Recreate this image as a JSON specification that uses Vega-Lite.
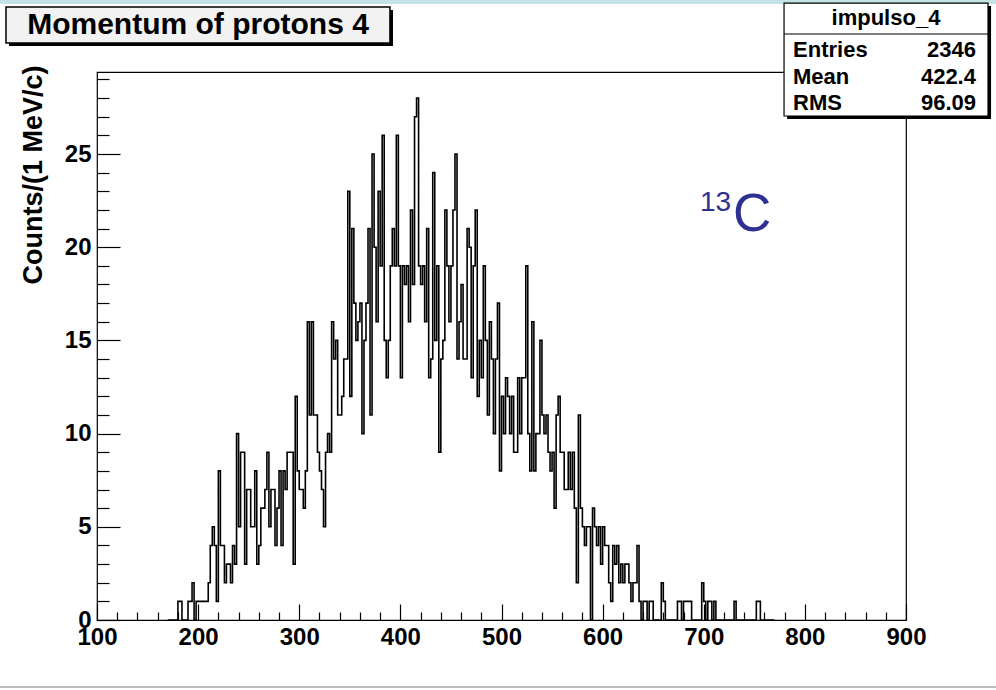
{
  "$schema": "https://vega.github.io/schema/vega-lite/v6.json",
  "width": 809,
  "height": 548,
  "autosize": {"type": "none"},
  "padding": {"left": 97, "top": 72, "right": 90, "bottom": 70},
  "background": "white",
  "config": {
    "view": {"stroke": "black", "strokeWidth": 1.2},
    "font": "Liberation Sans"
  },
  "resolve": {"axis": {"x": "independent", "y": "independent"}},
  "datasets": {
    "hist": [
      {"p":170,"n":0},{"p":172,"n":0},{"p":174,"n":0},{"p":176,"n":0},{"p":178,"n":0},
      {"p":180,"n":1},{"p":182,"n":1},{"p":184,"n":0},{"p":186,"n":0},{"p":188,"n":0},{"p":190,"n":1},{"p":192,"n":1},{"p":194,"n":2},{"p":196,"n":0},{"p":198,"n":1},
      {"p":200,"n":1},{"p":202,"n":1},{"p":204,"n":1},{"p":206,"n":1},{"p":208,"n":1},{"p":210,"n":2},{"p":212,"n":4},{"p":214,"n":5},{"p":216,"n":4},{"p":218,"n":1},
      {"p":220,"n":8},{"p":222,"n":4},{"p":224,"n":4},{"p":226,"n":2},{"p":228,"n":3},{"p":230,"n":3},{"p":232,"n":2},{"p":234,"n":4},{"p":236,"n":3},{"p":238,"n":10},
      {"p":240,"n":5},{"p":242,"n":9},{"p":244,"n":9},{"p":246,"n":3},{"p":248,"n":7},{"p":250,"n":7},{"p":252,"n":5},{"p":254,"n":5},{"p":256,"n":8},{"p":258,"n":3},
      {"p":260,"n":4},{"p":262,"n":6},{"p":264,"n":6},{"p":266,"n":7},{"p":268,"n":9},{"p":270,"n":5},{"p":272,"n":7},{"p":274,"n":7},{"p":276,"n":4},{"p":278,"n":6},
      {"p":280,"n":8},{"p":282,"n":4},{"p":284,"n":8},{"p":286,"n":7},{"p":288,"n":9},{"p":290,"n":9},{"p":292,"n":9},{"p":294,"n":3},{"p":296,"n":12},{"p":298,"n":8},
      {"p":300,"n":7},{"p":302,"n":7},{"p":304,"n":6},{"p":306,"n":8},{"p":308,"n":16},{"p":310,"n":11},{"p":312,"n":16},{"p":314,"n":11},{"p":316,"n":11},{"p":318,"n":9},
      {"p":320,"n":8},{"p":322,"n":7},{"p":324,"n":5},{"p":326,"n":9},{"p":328,"n":10},{"p":330,"n":9},{"p":332,"n":16},{"p":334,"n":14},{"p":336,"n":15},{"p":338,"n":11},
      {"p":340,"n":11},{"p":342,"n":12},{"p":344,"n":14},{"p":346,"n":14},{"p":348,"n":23},{"p":350,"n":12},{"p":352,"n":21},{"p":354,"n":17},{"p":356,"n":15},{"p":358,"n":16},
      {"p":360,"n":17},{"p":362,"n":10},{"p":364,"n":15},{"p":366,"n":17},{"p":368,"n":21},{"p":370,"n":11},{"p":372,"n":25},{"p":374,"n":20},{"p":376,"n":16},{"p":378,"n":23},
      {"p":380,"n":19},{"p":382,"n":26},{"p":384,"n":15},{"p":386,"n":13},{"p":388,"n":15},{"p":390,"n":19},{"p":392,"n":21},{"p":394,"n":19},{"p":396,"n":26},{"p":398,"n":19},
      {"p":400,"n":13},{"p":402,"n":19},{"p":404,"n":18},{"p":406,"n":19},{"p":408,"n":16},{"p":410,"n":22},{"p":412,"n":18},{"p":414,"n":27},{"p":416,"n":28},{"p":418,"n":19},
      {"p":420,"n":18},{"p":422,"n":19},{"p":424,"n":16},{"p":426,"n":21},{"p":428,"n":13},{"p":430,"n":14},{"p":432,"n":24},{"p":434,"n":15},{"p":436,"n":19},{"p":438,"n":9},
      {"p":440,"n":14},{"p":442,"n":15},{"p":444,"n":22},{"p":446,"n":19},{"p":448,"n":16},{"p":450,"n":19},{"p":452,"n":22},{"p":454,"n":25},{"p":456,"n":14},{"p":458,"n":16},
      {"p":460,"n":18},{"p":462,"n":14},{"p":464,"n":14},{"p":466,"n":21},{"p":468,"n":20},{"p":470,"n":13},{"p":472,"n":19},{"p":474,"n":22},{"p":476,"n":12},{"p":478,"n":15},
      {"p":480,"n":13},{"p":482,"n":19},{"p":484,"n":15},{"p":486,"n":11},{"p":488,"n":16},{"p":490,"n":14},{"p":492,"n":10},{"p":494,"n":14},{"p":496,"n":17},{"p":498,"n":8},
      {"p":500,"n":12},{"p":502,"n":10},{"p":504,"n":13},{"p":506,"n":12},{"p":508,"n":10},{"p":510,"n":12},{"p":512,"n":9},{"p":514,"n":9},{"p":516,"n":13},{"p":518,"n":10},
      {"p":520,"n":13},{"p":522,"n":13},{"p":524,"n":19},{"p":526,"n":10},{"p":528,"n":8},{"p":530,"n":16},{"p":532,"n":8},{"p":534,"n":10},{"p":536,"n":10},{"p":538,"n":15},
      {"p":540,"n":11},{"p":542,"n":10},{"p":544,"n":11},{"p":546,"n":9},{"p":548,"n":8},{"p":550,"n":9},{"p":552,"n":6},{"p":554,"n":11},{"p":556,"n":12},{"p":558,"n":9},
      {"p":560,"n":9},{"p":562,"n":7},{"p":564,"n":7},{"p":566,"n":9},{"p":568,"n":7},{"p":570,"n":9},{"p":572,"n":6},{"p":574,"n":2},{"p":576,"n":11},{"p":578,"n":6},
      {"p":580,"n":5},{"p":582,"n":4},{"p":584,"n":5},{"p":586,"n":5},{"p":588,"n":0},{"p":590,"n":6},{"p":592,"n":5},{"p":594,"n":4},{"p":596,"n":5},{"p":598,"n":3},
      {"p":600,"n":5},{"p":602,"n":4},{"p":604,"n":4},{"p":606,"n":2},{"p":608,"n":1},{"p":610,"n":4},{"p":612,"n":3},{"p":614,"n":4},{"p":616,"n":2},{"p":618,"n":3},
      {"p":620,"n":2},{"p":622,"n":3},{"p":624,"n":3},{"p":626,"n":2},{"p":628,"n":1},{"p":630,"n":2},{"p":632,"n":2},{"p":634,"n":4},{"p":636,"n":1},{"p":638,"n":0},
      {"p":640,"n":1},{"p":642,"n":1},{"p":644,"n":0},{"p":646,"n":1},{"p":648,"n":1},{"p":650,"n":0},{"p":652,"n":0},{"p":654,"n":0},{"p":656,"n":0},{"p":658,"n":2},
      {"p":660,"n":1},{"p":662,"n":0},{"p":664,"n":0},{"p":666,"n":0},{"p":668,"n":0},{"p":670,"n":0},{"p":672,"n":0},{"p":674,"n":1},{"p":676,"n":1},{"p":678,"n":0},
      {"p":680,"n":1},{"p":682,"n":1},{"p":684,"n":1},{"p":686,"n":1},{"p":688,"n":0},{"p":690,"n":0},{"p":692,"n":0},{"p":694,"n":0},{"p":696,"n":0},{"p":698,"n":2},
      {"p":700,"n":1},{"p":702,"n":0},{"p":704,"n":1},{"p":706,"n":1},{"p":708,"n":0},{"p":710,"n":1},{"p":712,"n":0},{"p":714,"n":0},{"p":716,"n":0},{"p":718,"n":0},
      {"p":720,"n":0},{"p":722,"n":0},{"p":724,"n":0},{"p":726,"n":0},{"p":728,"n":0},{"p":730,"n":1},{"p":732,"n":0},{"p":734,"n":0},{"p":736,"n":0},{"p":738,"n":0},
      {"p":740,"n":0},{"p":742,"n":0},{"p":744,"n":0},{"p":746,"n":0},{"p":748,"n":0},{"p":750,"n":0},{"p":752,"n":1},{"p":754,"n":1},{"p":756,"n":0},{"p":758,"n":0},
      {"p":760,"n":0},{"p":762,"n":0},{"p":764,"n":0},{"p":766,"n":0},{"p":768,"n":0},{"p":770,"n":0}
    ]
  },
  "layer": [
    {
      "data": {"name": "hist"},
      "mark": {"type": "line", "interpolate": "step-after", "color": "black", "strokeWidth": 1.6},
      "encoding": {
        "x": {
          "field": "p", "type": "quantitative",
          "scale": {"domain": [100, 900], "nice": false, "zero": false},
          "axis": {
            "title": null, "domain": false, "grid": false,
            "values": [100,120,140,160,180,200,220,240,260,280,300,320,340,360,380,400,420,440,460,480,500,520,540,560,580,600,620,640,660,680,700,720,740,760,780,800,820,840,860,880,900],
            "tickSize": {"condition": {"test": "datum.value % 100 === 0", "value": -16}, "value": -8},
            "tickColor": "black", "tickWidth": 1.2,
            "labelExpr": "datum.value % 100 === 0 ? datum.label : ''",
            "labelFont": "Liberation Sans", "labelFontSize": 24, "labelFontWeight": "bold", "labelColor": "black",
            "labelPadding": 21, "labelOverlap": false, "labelFlush": false
          }
        },
        "y": {
          "field": "n", "type": "quantitative",
          "scale": {"domain": [0, 29.4], "nice": false},
          "axis": {
            "title": "Counts/(1 MeV/c)", "domain": false, "grid": false,
            "values": [0,1,2,3,4,5,6,7,8,9,10,11,12,13,14,15,16,17,18,19,20,21,22,23,24,25,26,27,28,29],
            "tickSize": {"condition": {"test": "datum.value % 5 === 0", "value": -23}, "value": -12},
            "tickColor": "black", "tickWidth": 1.2,
            "labelExpr": "datum.value % 5 === 0 ? datum.label : ''",
            "labelFont": "Liberation Sans", "labelFontSize": 24, "labelFontWeight": "bold", "labelColor": "black",
            "labelPadding": 29, "labelOverlap": false, "labelFlush": false,
            "titleFont": "Liberation Sans", "titleFontSize": 27, "titleFontWeight": "bold", "titleColor": "black",
            "titleAngle": 270, "titleAlign": "right", "titleBaseline": "middle", "titleX": -64, "titleY": -7
          }
        }
      }
    },
    {
      "data": {"values": [{}]},
      "mark": {"type": "rect", "color": "#c4e3e6", "clip": false},
      "encoding": {
        "x": {"datum": 0, "type": "quantitative", "axis": null},
        "x2": {"datum": 1000},
        "y": {"datum": 33.3, "type": "quantitative", "axis": null},
        "y2": {"datum": 33.05}
      }
    },
    {
      "data": {"values": [{}]},
      "mark": {"type": "rule", "color": "#bdbdbd", "strokeWidth": 2},
      "encoding": {
        "x": {"datum": 0, "type": "quantitative", "axis": null},
        "x2": {"datum": 1000},
        "y": {"datum": -3.6, "type": "quantitative", "axis": null}
      }
    },
    {
      "data": {"values": [{}]},
      "mark": {"type": "rect", "color": "black"},
      "encoding": {
        "x": {"datum": 13.0, "type": "quantitative", "axis": null},
        "x2": {"datum": 392.7},
        "y": {"datum": 32.73, "type": "quantitative", "axis": null},
        "y2": {"datum": 30.8}
      }
    },
    {
      "data": {"values": [{}]},
      "mark": {"type": "rect", "fill": "#f2f2f2", "stroke": "black", "strokeWidth": 1.5},
      "encoding": {
        "x": {"datum": 10.0, "type": "quantitative", "axis": null},
        "x2": {"datum": 389.7},
        "y": {"datum": 32.89, "type": "quantitative", "axis": null},
        "y2": {"datum": 30.96}
      }
    },
    {
      "data": {"values": [{}]},
      "mark": {"type": "text", "text": "Momentum of protons 4", "font": "Liberation Sans", "fontSize": 30, "fontWeight": "bold", "color": "black", "align": "center", "baseline": "middle"},
      "encoding": {
        "x": {"datum": 199.9, "type": "quantitative", "axis": null},
        "y": {"datum": 31.92, "type": "quantitative", "axis": null}
      }
    },
    {
      "data": {"values": [{}]},
      "mark": {"type": "rect", "color": "black"},
      "encoding": {
        "x": {"datum": 782.4, "type": "quantitative", "axis": null},
        "x2": {"datum": 984.1},
        "y": {"datum": 32.94, "type": "quantitative", "axis": null},
        "y2": {"datum": 26.88}
      }
    },
    {
      "data": {"values": [{}]},
      "mark": {"type": "rect", "fill": "white", "stroke": "black", "strokeWidth": 1.2},
      "encoding": {
        "x": {"datum": 779.4, "type": "quantitative", "axis": null},
        "x2": {"datum": 981.1},
        "y": {"datum": 33.1, "type": "quantitative", "axis": null},
        "y2": {"datum": 27.04}
      }
    },
    {
      "data": {"values": [{}]},
      "mark": {"type": "rule", "color": "black", "strokeWidth": 1.2},
      "encoding": {
        "x": {"datum": 779.4, "type": "quantitative", "axis": null},
        "x2": {"datum": 981.1},
        "y": {"datum": 31.44, "type": "quantitative", "axis": null}
      }
    },
    {
      "data": {"values": [{}]},
      "mark": {"type": "text", "text": "impulso_4", "font": "Liberation Sans", "fontSize": 22, "fontWeight": "bold", "color": "black", "align": "center", "baseline": "middle"},
      "encoding": {
        "x": {"datum": 880.2, "type": "quantitative", "axis": null},
        "y": {"datum": 32.3, "type": "quantitative", "axis": null}
      }
    },
    {
      "data": {"values": [{}]},
      "mark": {"type": "text", "text": "Entries", "font": "Liberation Sans", "fontSize": 22, "fontWeight": "bold", "color": "black", "align": "left", "baseline": "middle"},
      "encoding": {
        "x": {"datum": 788.3, "type": "quantitative", "axis": null},
        "y": {"datum": 30.58, "type": "quantitative", "axis": null}
      }
    },
    {
      "data": {"values": [{}]},
      "mark": {"type": "text", "text": "Mean", "font": "Liberation Sans", "fontSize": 22, "fontWeight": "bold", "color": "black", "align": "left", "baseline": "middle"},
      "encoding": {
        "x": {"datum": 788.3, "type": "quantitative", "axis": null},
        "y": {"datum": 29.13, "type": "quantitative", "axis": null}
      }
    },
    {
      "data": {"values": [{}]},
      "mark": {"type": "text", "text": "RMS", "font": "Liberation Sans", "fontSize": 22, "fontWeight": "bold", "color": "black", "align": "left", "baseline": "middle"},
      "encoding": {
        "x": {"datum": 788.3, "type": "quantitative", "axis": null},
        "y": {"datum": 27.74, "type": "quantitative", "axis": null}
      }
    },
    {
      "data": {"values": [{}]},
      "mark": {"type": "text", "text": "2346", "font": "Liberation Sans", "fontSize": 22, "fontWeight": "bold", "color": "black", "align": "right", "baseline": "middle"},
      "encoding": {
        "x": {"datum": 969.2, "type": "quantitative", "axis": null},
        "y": {"datum": 30.58, "type": "quantitative", "axis": null}
      }
    },
    {
      "data": {"values": [{}]},
      "mark": {"type": "text", "text": "422.4", "font": "Liberation Sans", "fontSize": 22, "fontWeight": "bold", "color": "black", "align": "right", "baseline": "middle"},
      "encoding": {
        "x": {"datum": 969.2, "type": "quantitative", "axis": null},
        "y": {"datum": 29.13, "type": "quantitative", "axis": null}
      }
    },
    {
      "data": {"values": [{}]},
      "mark": {"type": "text", "text": "96.09", "font": "Liberation Sans", "fontSize": 22, "fontWeight": "bold", "color": "black", "align": "right", "baseline": "middle"},
      "encoding": {
        "x": {"datum": 969.2, "type": "quantitative", "axis": null},
        "y": {"datum": 27.74, "type": "quantitative", "axis": null}
      }
    },
    {
      "data": {"values": [{}]},
      "mark": {"type": "text", "text": "13", "font": "Liberation Sans", "fontSize": 28, "color": "#2f3192", "align": "right", "baseline": "alphabetic"},
      "encoding": {
        "x": {"datum": 727.0, "type": "quantitative", "axis": null},
        "y": {"datum": 21.94, "type": "quantitative", "axis": null}
      }
    },
    {
      "data": {"values": [{}]},
      "mark": {"type": "text", "text": "C", "font": "Liberation Sans", "fontSize": 53, "color": "#2f3192", "align": "left", "baseline": "alphabetic"},
      "encoding": {
        "x": {"datum": 728.9, "type": "quantitative", "axis": null},
        "y": {"datum": 20.87, "type": "quantitative", "axis": null}
      }
    }
  ]
}
